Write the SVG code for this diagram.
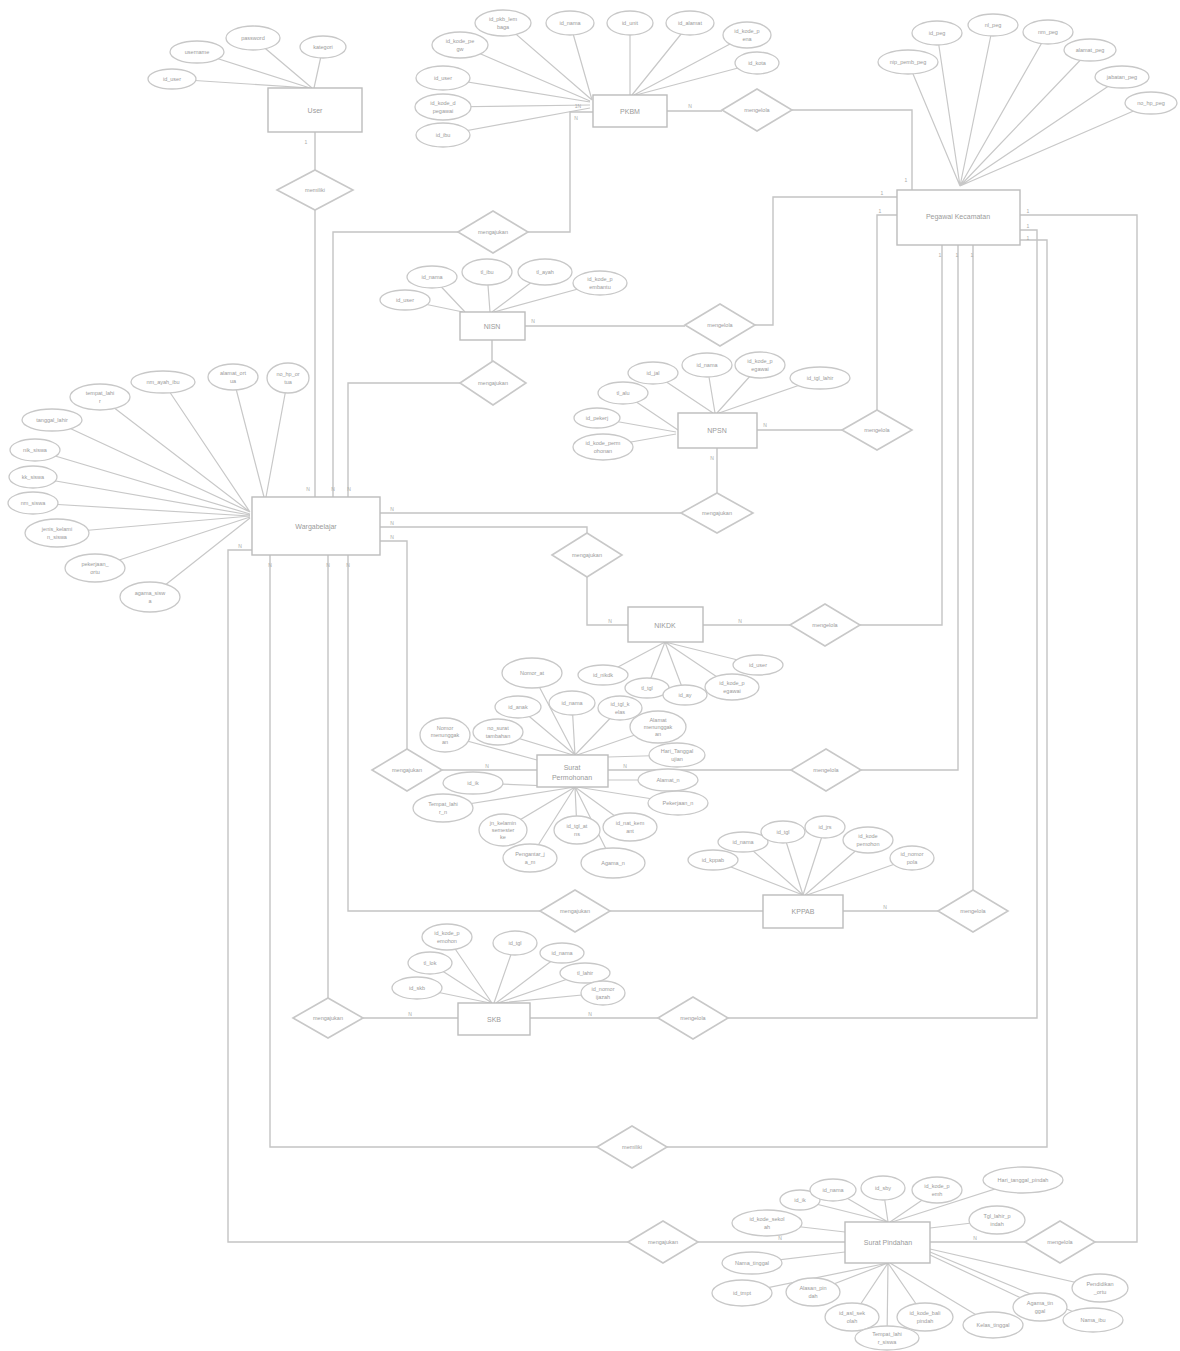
<svg xmlns="http://www.w3.org/2000/svg" width="1180" height="1351" viewBox="0 0 1180 1351">
<style>
.bg{fill:#fff}
.c{fill:none;stroke:#c4c4c4;stroke-width:1.4}
.al{stroke:#c8c8c8;stroke-width:1.2}
.e{fill:#fff;stroke:#bcbcbc;stroke-width:1.4}
.a{fill:#fff;stroke:#c8c8c8;stroke-width:1.3}
.r{fill:#fff;stroke:#c8c8c8;stroke-width:1.6}
text{font-family:"Liberation Sans",Arial,sans-serif;fill:#9a9a9a;text-anchor:middle;dominant-baseline:central}
.t{font-size:5.5px}
.n{font-size:7px}
.k{font-size:5px;fill:#aaa}
</style>
<rect class="bg" width="1180" height="1351"/>

<g id="attr-lines">
<!-- User -->
<path class="al" d="M172,79L310,88M197,52L310,88M253,38L312,88M323,47L314,88"/>
<!-- PKBM -->
<path class="al" d="M503,23L592,100M570,23L592,100M630,23L630,95M690,23L632,95M747,35L634,95M757,63L636,95M460,45L590,101M443,78L590,102M443,107L590,105M443,135L590,108"/>
<!-- Pegawai -->
<path class="al" d="M908,62L960,186M937,33L960,186M993,25L960,186M1048,32L960,186M1090,50L960,186M1122,77L960,186M1152,103L960,186"/>
<!-- NISN -->
<path class="al" d="M405,300L463,312M432,277L465,312M487,272L490,312M545,272L492,312M600,283L494,312"/>
<!-- NPSN -->
<path class="al" d="M623,393L678,430M653,373L713,413M707,365L715,413M760,365L717,413M820,378L719,413M597,418L676,432M603,447L676,434"/>
<!-- Wargabelajar -->
<path class="al" d="M288,378L266,497M233,377L264,497M163,382L250,512M100,397L250,512M52,420L250,512M35,450L250,514M33,477L250,515M33,503L250,516M57,533L250,516M95,568L250,517M150,597L250,518"/>
<!-- NIKDK -->
<path class="al" d="M603,675L665,642M647,688L665,642M685,695L665,642M732,687L665,642M758,665L665,642"/>
<!-- Surat Permohonan -->
<path class="al" d="M532,673L575,755M518,707L575,755M572,703L575,755M620,708L575,755M658,727L577,755M677,755L608,757M445,735L537,760M498,732L573,755M473,783L575,787M443,808L575,787M503,830L575,787M530,858L575,787M577,830L575,787M630,827L575,787M613,863L575,787M668,780L608,780M678,803L577,787"/>
<!-- KPPAB -->
<path class="al" d="M713,860L803,895M743,842L803,895M783,832L803,895M825,827L803,895M868,840L805,895M912,858L807,895"/>
<!-- SKB -->
<path class="al" d="M447,937L492,1003M430,963L492,1003M417,988L490,1003M515,943L494,1003M562,953L496,1003M585,973L498,1003M603,993L500,1003"/>
<!-- Surat Pindahan -->
<path class="al" d="M800,1200L888,1222M833,1190L888,1222M883,1188L888,1222M937,1190L890,1222M1023,1180L892,1222M997,1220L930,1228M767,1223L845,1232M752,1263L845,1252M742,1293L888,1263M813,1292L888,1263M852,1317L888,1263M887,1340L888,1263M925,1317L888,1263M993,1325L890,1263M1040,1307L930,1255M1093,1320L930,1252M1100,1288L930,1249"/>
</g>

<g id="connectors">
<path class="c" d="M315,132V170M315,210V497"/>
<path class="c" d="M667,111H722M792,110H912V190"/>
<path class="c" d="M593,112H570V232H528M458,232H333V497"/>
<path class="c" d="M525,326H685M755,325H773V197H897"/>
<path class="c" d="M492,340V361M460,383H348V497"/>
<path class="c" d="M757,430H842M877,410V215H897"/>
<path class="c" d="M717,448V493M681,513H380"/>
<path class="c" d="M380,527H587V533M587,577V625H628"/>
<path class="c" d="M703,625H790M860,625H942V245"/>
<path class="c" d="M380,541H407V749M442,770H537"/>
<path class="c" d="M608,770H791M861,770H958V245"/>
<path class="c" d="M763,911H610M540,911H348V555"/>
<path class="c" d="M843,911H938M973,890V245"/>
<path class="c" d="M458,1018H363M328,998V555"/>
<path class="c" d="M530,1018H658M728,1018H1037V230H1020"/>
<path class="c" d="M597,1147H270V555M667,1147H1047V240H1020"/>
<path class="c" d="M845,1242H698M628,1242H228V550H252"/>
<path class="c" d="M930,1242H1025M1095,1242H1137V215H1020"/>
<g class="cards">
<text class="k" x="306" y="142">1</text><text class="k" x="308" y="489">N</text>
<text class="k" x="690" y="106">N</text><text class="k" x="906" y="180">1</text>
<text class="k" x="578" y="106">1N</text><text class="k" x="576" y="118">N</text><text class="k" x="333" y="489">N</text>
<text class="k" x="533" y="321">N</text><text class="k" x="882" y="193">1</text>
<text class="k" x="765" y="425">N</text><text class="k" x="880" y="211">1</text>
<text class="k" x="712" y="458">N</text><text class="k" x="392" y="509">N</text><text class="k" x="349" y="489">N</text>
<text class="k" x="392" y="523">N</text><text class="k" x="610" y="621">N</text>
<text class="k" x="740" y="621">N</text><text class="k" x="940" y="255">1</text>
<text class="k" x="392" y="537">N</text><text class="k" x="487" y="766">N</text>
<text class="k" x="625" y="766">N</text><text class="k" x="957" y="255">1</text>
<text class="k" x="770" y="907">N</text><text class="k" x="348" y="565">N</text>
<text class="k" x="885" y="907">N</text><text class="k" x="972" y="255">1</text>
<text class="k" x="410" y="1014">N</text><text class="k" x="328" y="565">N</text>
<text class="k" x="590" y="1014">N</text><text class="k" x="1028" y="226">1</text>
<text class="k" x="270" y="565">N</text><text class="k" x="1028" y="238">1</text>
<text class="k" x="780" y="1238">N</text><text class="k" x="240" y="546">N</text>
<text class="k" x="975" y="1238">N</text><text class="k" x="1028" y="211">1</text>
</g>
</g>

<g id="relationships">
<g id="r1"><polygon class="r" points="277,190 315,170 353,190 315,210"/><text class="t" x="315" y="190">memiliki</text></g>
<g id="r2"><polygon class="r" points="722,110 757,89 792,110 757,131"/><text class="t" x="757" y="110">mengelola</text></g>
<g id="r3"><polygon class="r" points="458,232 493,211 528,232 493,253"/><text class="t" x="493" y="232">mengajukan</text></g>
<g id="r4"><polygon class="r" points="685,325 720,304 755,325 720,346"/><text class="t" x="720" y="325">mengelola</text></g>
<g id="r5"><polygon class="r" points="460,383 493,361 526,383 493,405"/><text class="t" x="493" y="383">mengajukan</text></g>
<g id="r6"><polygon class="r" points="842,430 877,410 912,430 877,450"/><text class="t" x="877" y="430">mengelola</text></g>
<g id="r7"><polygon class="r" points="681,513 717,493 753,513 717,533"/><text class="t" x="717" y="513">mengajukan</text></g>
<g id="r8"><polygon class="r" points="552,555 587,533 622,555 587,577"/><text class="t" x="587" y="555">mengajukan</text></g>
<g id="r9"><polygon class="r" points="790,625 825,604 860,625 825,646"/><text class="t" x="825" y="625">mengelola</text></g>
<g id="r10"><polygon class="r" points="372,770 407,749 442,770 407,791"/><text class="t" x="407" y="770">mengajukan</text></g>
<g id="r11"><polygon class="r" points="791,770 826,749 861,770 826,791"/><text class="t" x="826" y="770">mengelola</text></g>
<g id="r12"><polygon class="r" points="540,911 575,890 610,911 575,932"/><text class="t" x="575" y="911">mengajukan</text></g>
<g id="r13"><polygon class="r" points="938,911 973,890 1008,911 973,932"/><text class="t" x="973" y="911">mengelola</text></g>
<g id="r14"><polygon class="r" points="293,1018 328,998 363,1018 328,1038"/><text class="t" x="328" y="1018">mengajukan</text></g>
<g id="r15"><polygon class="r" points="658,1018 693,997 728,1018 693,1039"/><text class="t" x="693" y="1018">mengelola</text></g>
<g id="r16"><polygon class="r" points="597,1147 632,1126 667,1147 632,1168"/><text class="t" x="632" y="1147">memiliki</text></g>
<g id="r17"><polygon class="r" points="628,1242 663,1221 698,1242 663,1263"/><text class="t" x="663" y="1242">mengajukan</text></g>
<g id="r18"><polygon class="r" points="1025,1242 1060,1221 1095,1242 1060,1263"/><text class="t" x="1060" y="1242">mengelola</text></g>
</g>

<g id="entities">
<g id="user"><rect class="e" x="268" y="88" width="94" height="44"/><text class="n" x="315" y="110">User</text></g>
<g id="pkbm"><rect class="e" x="593" y="95" width="74" height="32"/><text class="n" x="630" y="111">PKBM</text></g>
<g id="pegawai"><rect class="e" x="897" y="190" width="123" height="55"/><text class="n" x="958" y="216">Pegawai Kecamatan</text></g>
<g id="nisn"><rect class="e" x="460" y="312" width="65" height="28"/><text class="n" x="492" y="326">NISN</text></g>
<g id="npsn"><rect class="e" x="678" y="413" width="79" height="35"/><text class="n" x="717" y="430">NPSN</text></g>
<g id="wargabelajar"><rect class="e" x="252" y="497" width="128" height="58"/><text class="n" x="316" y="526">Wargabelajar</text></g>
<g id="nikdk"><rect class="e" x="628" y="607" width="75" height="35"/><text class="n" x="665" y="625">NIKDK</text></g>
<g id="suratpermohonan"><rect class="e" x="537" y="755" width="71" height="32"/><text class="n" x="572" y="767">Surat</text><text class="n" x="572" y="777">Permohonan</text></g>
<g id="kppab"><rect class="e" x="763" y="895" width="80" height="33"/><text class="n" x="803" y="911">KPPAB</text></g>
<g id="skb"><rect class="e" x="458" y="1003" width="72" height="32"/><text class="n" x="494" y="1019">SKB</text></g>
<g id="suratpindahan"><rect class="e" x="845" y="1222" width="85" height="41"/><text class="n" x="888" y="1242">Surat Pindahan</text></g>
</g>

<g id="attributes">
<!-- User -->
<g><ellipse class="a" cx="172" cy="79" rx="24" ry="10"/><text class="t" x="172" y="79">id_user</text></g>
<g><ellipse class="a" cx="197" cy="52" rx="27" ry="11"/><text class="t" x="197" y="52">username</text></g>
<g><ellipse class="a" cx="253" cy="38" rx="27" ry="12"/><text class="t" x="253" y="38">password</text></g>
<g><ellipse class="a" cx="323" cy="47" rx="23" ry="11"/><text class="t" x="323" y="47">kategori</text></g>
<!-- PKBM -->
<g><ellipse class="a" cx="503" cy="23" rx="28" ry="13"/><text class="t" x="503" y="19">id_pkb_lem</text><text class="t" x="503" y="27">baga</text></g>
<g><ellipse class="a" cx="570" cy="23" rx="24" ry="12"/><text class="t" x="570" y="23">id_nama</text></g>
<g><ellipse class="a" cx="630" cy="23" rx="23" ry="12"/><text class="t" x="630" y="23">id_unit</text></g>
<g><ellipse class="a" cx="690" cy="23" rx="24" ry="12"/><text class="t" x="690" y="23">id_alamat</text></g>
<g><ellipse class="a" cx="747" cy="35" rx="24" ry="13"/><text class="t" x="747" y="31">id_kode_p</text><text class="t" x="747" y="39">ena</text></g>
<g><ellipse class="a" cx="757" cy="63" rx="22" ry="11"/><text class="t" x="757" y="63">id_kota</text></g>
<g><ellipse class="a" cx="460" cy="45" rx="28" ry="13"/><text class="t" x="460" y="41">id_kode_pe</text><text class="t" x="460" y="49">gw</text></g>
<g><ellipse class="a" cx="443" cy="78" rx="27" ry="12"/><text class="t" x="443" y="78">id_user</text></g>
<g><ellipse class="a" cx="443" cy="107" rx="28" ry="13"/><text class="t" x="443" y="103">id_kode_d</text><text class="t" x="443" y="111">pegawai</text></g>
<g><ellipse class="a" cx="443" cy="135" rx="27" ry="12"/><text class="t" x="443" y="135">id_ibu</text></g>
<!-- Pegawai -->
<g><ellipse class="a" cx="908" cy="62" rx="30" ry="12"/><text class="t" x="908" y="62">nip_pemb_peg</text></g>
<g><ellipse class="a" cx="937" cy="33" rx="25" ry="12"/><text class="t" x="937" y="33">id_peg</text></g>
<g><ellipse class="a" cx="993" cy="25" rx="25" ry="11"/><text class="t" x="993" y="25">nl_peg</text></g>
<g><ellipse class="a" cx="1048" cy="32" rx="25" ry="12"/><text class="t" x="1048" y="32">nm_peg</text></g>
<g><ellipse class="a" cx="1090" cy="50" rx="26" ry="11"/><text class="t" x="1090" y="50">alamat_peg</text></g>
<g><ellipse class="a" cx="1122" cy="77" rx="27" ry="11"/><text class="t" x="1122" y="77">jabatan_peg</text></g>
<g><ellipse class="a" cx="1151" cy="103" rx="26" ry="11"/><text class="t" x="1151" y="103">no_hp_peg</text></g>
<!-- NISN -->
<g><ellipse class="a" cx="405" cy="300" rx="25" ry="10"/><text class="t" x="405" y="300">id_user</text></g>
<g><ellipse class="a" cx="432" cy="277" rx="25" ry="11"/><text class="t" x="432" y="277">id_nama</text></g>
<g><ellipse class="a" cx="487" cy="272" rx="25" ry="13"/><text class="t" x="487" y="272">tl_ibu</text></g>
<g><ellipse class="a" cx="545" cy="272" rx="27" ry="13"/><text class="t" x="545" y="272">tl_ayah</text></g>
<g><ellipse class="a" cx="600" cy="283" rx="27" ry="12"/><text class="t" x="600" y="279">id_kode_p</text><text class="t" x="600" y="287">embantu</text></g>
<!-- NPSN -->
<g><ellipse class="a" cx="623" cy="393" rx="25" ry="11"/><text class="t" x="623" y="393">tl_alu</text></g>
<g><ellipse class="a" cx="653" cy="373" rx="25" ry="11"/><text class="t" x="653" y="373">id_jal</text></g>
<g><ellipse class="a" cx="707" cy="365" rx="25" ry="12"/><text class="t" x="707" y="365">id_nama</text></g>
<g><ellipse class="a" cx="760" cy="365" rx="25" ry="13"/><text class="t" x="760" y="361">id_kode_p</text><text class="t" x="760" y="369">egawai</text></g>
<g><ellipse class="a" cx="820" cy="378" rx="30" ry="11"/><text class="t" x="820" y="378">id_tgl_lahir</text></g>
<g><ellipse class="a" cx="597" cy="418" rx="23" ry="10"/><text class="t" x="597" y="418">id_pekerj</text></g>
<g><ellipse class="a" cx="603" cy="447" rx="30" ry="13"/><text class="t" x="603" y="443">id_kode_perm</text><text class="t" x="603" y="451">ohonan</text></g>
<!-- Wargabelajar -->
<g><ellipse class="a" cx="288" cy="378" rx="21" ry="15"/><text class="t" x="288" y="374">no_hp_or</text><text class="t" x="288" y="382">tua</text></g>
<g><ellipse class="a" cx="233" cy="377" rx="25" ry="13"/><text class="t" x="233" y="373">alamat_ort</text><text class="t" x="233" y="381">ua</text></g>
<g><ellipse class="a" cx="163" cy="382" rx="32" ry="11"/><text class="t" x="163" y="382">nm_ayah_ibu</text></g>
<g><ellipse class="a" cx="100" cy="397" rx="30" ry="13"/><text class="t" x="100" y="393">tempat_lahi</text><text class="t" x="100" y="401">r</text></g>
<g><ellipse class="a" cx="52" cy="420" rx="30" ry="11"/><text class="t" x="52" y="420">tanggal_lahir</text></g>
<g><ellipse class="a" cx="35" cy="450" rx="25" ry="11"/><text class="t" x="35" y="450">nik_siswa</text></g>
<g><ellipse class="a" cx="33" cy="477" rx="24" ry="11"/><text class="t" x="33" y="477">kk_siswa</text></g>
<g><ellipse class="a" cx="33" cy="503" rx="25" ry="11"/><text class="t" x="33" y="503">nm_siswa</text></g>
<g><ellipse class="a" cx="57" cy="533" rx="32" ry="14"/><text class="t" x="57" y="529">jenis_kelami</text><text class="t" x="57" y="537">n_siswa</text></g>
<g><ellipse class="a" cx="95" cy="568" rx="30" ry="14"/><text class="t" x="95" y="564">pekerjaan_</text><text class="t" x="95" y="572">ortu</text></g>
<g><ellipse class="a" cx="150" cy="597" rx="30" ry="15"/><text class="t" x="150" y="593">agama_sisw</text><text class="t" x="150" y="601">a</text></g>
<!-- NIKDK -->
<g><ellipse class="a" cx="603" cy="675" rx="25" ry="10"/><text class="t" x="603" y="675">id_nikdk</text></g>
<g><ellipse class="a" cx="647" cy="688" rx="22" ry="10"/><text class="t" x="647" y="688">tl_tgl</text></g>
<g><ellipse class="a" cx="685" cy="695" rx="22" ry="10"/><text class="t" x="685" y="695">id_ay</text></g>
<g><ellipse class="a" cx="732" cy="687" rx="27" ry="13"/><text class="t" x="732" y="683">id_kode_p</text><text class="t" x="732" y="691">egawai</text></g>
<g><ellipse class="a" cx="758" cy="665" rx="25" ry="10"/><text class="t" x="758" y="665">id_user</text></g>
<!-- Surat Permohonan -->
<g><ellipse class="a" cx="532" cy="673" rx="30" ry="15"/><text class="t" x="532" y="673">Nomor_at</text></g>
<g><ellipse class="a" cx="518" cy="707" rx="23" ry="11"/><text class="t" x="518" y="707">id_anak</text></g>
<g><ellipse class="a" cx="572" cy="703" rx="23" ry="12"/><text class="t" x="572" y="703">id_nama</text></g>
<g><ellipse class="a" cx="620" cy="708" rx="22" ry="12"/><text class="t" x="620" y="704">id_tgl_k</text><text class="t" x="620" y="712">elas</text></g>
<g><ellipse class="a" cx="658" cy="727" rx="28" ry="16"/><text class="t" x="658" y="720">Alamat</text><text class="t" x="658" y="727">menunggak</text><text class="t" x="658" y="734">an</text></g>
<g><ellipse class="a" cx="677" cy="755" rx="28" ry="12"/><text class="t" x="677" y="751">Hari_Tanggal</text><text class="t" x="677" y="759">ujian</text></g>
<g><ellipse class="a" cx="445" cy="735" rx="25" ry="17"/><text class="t" x="445" y="728">Nomor</text><text class="t" x="445" y="735">menunggak</text><text class="t" x="445" y="742">an</text></g>
<g><ellipse class="a" cx="498" cy="732" rx="25" ry="13"/><text class="t" x="498" y="728">no_surat</text><text class="t" x="498" y="736">tambahan</text></g>
<g><ellipse class="a" cx="473" cy="783" rx="30" ry="11"/><text class="t" x="473" y="783">id_ik</text></g>
<g><ellipse class="a" cx="443" cy="808" rx="30" ry="14"/><text class="t" x="443" y="804">Tempat_lahi</text><text class="t" x="443" y="812">r_n</text></g>
<g><ellipse class="a" cx="503" cy="830" rx="24" ry="16"/><text class="t" x="503" y="823">jn_kelamin</text><text class="t" x="503" y="830">semester</text><text class="t" x="503" y="837">ke</text></g>
<g><ellipse class="a" cx="530" cy="858" rx="27" ry="14"/><text class="t" x="530" y="854">Pengantar_j</text><text class="t" x="530" y="862">a_m</text></g>
<g><ellipse class="a" cx="577" cy="830" rx="23" ry="14"/><text class="t" x="577" y="826">id_tgl_at</text><text class="t" x="577" y="834">ns</text></g>
<g><ellipse class="a" cx="630" cy="827" rx="27" ry="14"/><text class="t" x="630" y="823">id_nat_kem</text><text class="t" x="630" y="831">ant</text></g>
<g><ellipse class="a" cx="613" cy="863" rx="32" ry="15"/><text class="t" x="613" y="863">Agama_n</text></g>
<g><ellipse class="a" cx="668" cy="780" rx="30" ry="11"/><text class="t" x="668" y="780">Alamat_n</text></g>
<g><ellipse class="a" cx="678" cy="803" rx="30" ry="12"/><text class="t" x="678" y="803">Pekerjaan_n</text></g>
<!-- KPPAB -->
<g><ellipse class="a" cx="713" cy="860" rx="25" ry="10"/><text class="t" x="713" y="860">id_kppab</text></g>
<g><ellipse class="a" cx="743" cy="842" rx="25" ry="10"/><text class="t" x="743" y="842">id_nama</text></g>
<g><ellipse class="a" cx="783" cy="832" rx="22" ry="11"/><text class="t" x="783" y="832">id_tgl</text></g>
<g><ellipse class="a" cx="825" cy="827" rx="20" ry="11"/><text class="t" x="825" y="827">id_jrs</text></g>
<g><ellipse class="a" cx="868" cy="840" rx="25" ry="13"/><text class="t" x="868" y="836">id_kode</text><text class="t" x="868" y="844">pemohon</text></g>
<g><ellipse class="a" cx="912" cy="858" rx="22" ry="12"/><text class="t" x="912" y="854">id_nomor</text><text class="t" x="912" y="862">pola</text></g>
<!-- SKB -->
<g><ellipse class="a" cx="447" cy="937" rx="25" ry="13"/><text class="t" x="447" y="933">id_kode_p</text><text class="t" x="447" y="941">emohon</text></g>
<g><ellipse class="a" cx="430" cy="963" rx="22" ry="11"/><text class="t" x="430" y="963">tl_lok</text></g>
<g><ellipse class="a" cx="417" cy="988" rx="25" ry="11"/><text class="t" x="417" y="988">id_skb</text></g>
<g><ellipse class="a" cx="515" cy="943" rx="22" ry="12"/><text class="t" x="515" y="943">id_tgl</text></g>
<g><ellipse class="a" cx="562" cy="953" rx="22" ry="10"/><text class="t" x="562" y="953">id_nama</text></g>
<g><ellipse class="a" cx="585" cy="973" rx="25" ry="10"/><text class="t" x="585" y="973">tl_lahir</text></g>
<g><ellipse class="a" cx="603" cy="993" rx="22" ry="12"/><text class="t" x="603" y="989">id_nomor</text><text class="t" x="603" y="997">ijazah</text></g>
<!-- Surat Pindahan -->
<g><ellipse class="a" cx="800" cy="1200" rx="20" ry="10"/><text class="t" x="800" y="1200">id_ik</text></g>
<g><ellipse class="a" cx="833" cy="1190" rx="23" ry="11"/><text class="t" x="833" y="1190">id_nama</text></g>
<g><ellipse class="a" cx="883" cy="1188" rx="22" ry="12"/><text class="t" x="883" y="1188">id_sby</text></g>
<g><ellipse class="a" cx="937" cy="1190" rx="25" ry="13"/><text class="t" x="937" y="1186">id_kode_p</text><text class="t" x="937" y="1194">emh</text></g>
<g><ellipse class="a" cx="1023" cy="1180" rx="40" ry="13"/><text class="t" x="1023" y="1180">Hari_tanggal_pindah</text></g>
<g><ellipse class="a" cx="997" cy="1220" rx="28" ry="14"/><text class="t" x="997" y="1216">Tgl_lahir_p</text><text class="t" x="997" y="1224">indah</text></g>
<g><ellipse class="a" cx="767" cy="1223" rx="35" ry="13"/><text class="t" x="767" y="1219">id_kode_sekol</text><text class="t" x="767" y="1227">ah</text></g>
<g><ellipse class="a" cx="752" cy="1263" rx="30" ry="11"/><text class="t" x="752" y="1263">Nama_tinggal</text></g>
<g><ellipse class="a" cx="742" cy="1293" rx="30" ry="13"/><text class="t" x="742" y="1293">id_tmpt</text></g>
<g><ellipse class="a" cx="813" cy="1292" rx="27" ry="14"/><text class="t" x="813" y="1288">Alasan_pin</text><text class="t" x="813" y="1296">dah</text></g>
<g><ellipse class="a" cx="852" cy="1317" rx="27" ry="14"/><text class="t" x="852" y="1313">id_asl_sek</text><text class="t" x="852" y="1321">olah</text></g>
<g><ellipse class="a" cx="887" cy="1338" rx="32" ry="12"/><text class="t" x="887" y="1334">Tempat_lahi</text><text class="t" x="887" y="1342">r_siswa</text></g>
<g><ellipse class="a" cx="925" cy="1317" rx="28" ry="14"/><text class="t" x="925" y="1313">id_kode_bali</text><text class="t" x="925" y="1321">pindah</text></g>
<g><ellipse class="a" cx="993" cy="1325" rx="30" ry="13"/><text class="t" x="993" y="1325">Kelas_tinggal</text></g>
<g><ellipse class="a" cx="1040" cy="1307" rx="27" ry="14"/><text class="t" x="1040" y="1303">Agama_tin</text><text class="t" x="1040" y="1311">ggal</text></g>
<g><ellipse class="a" cx="1093" cy="1320" rx="30" ry="12"/><text class="t" x="1093" y="1320">Nama_ibu</text></g>
<g><ellipse class="a" cx="1100" cy="1288" rx="28" ry="14"/><text class="t" x="1100" y="1284">Pendidikan</text><text class="t" x="1100" y="1292">_ortu</text></g>
</g>
</svg>
